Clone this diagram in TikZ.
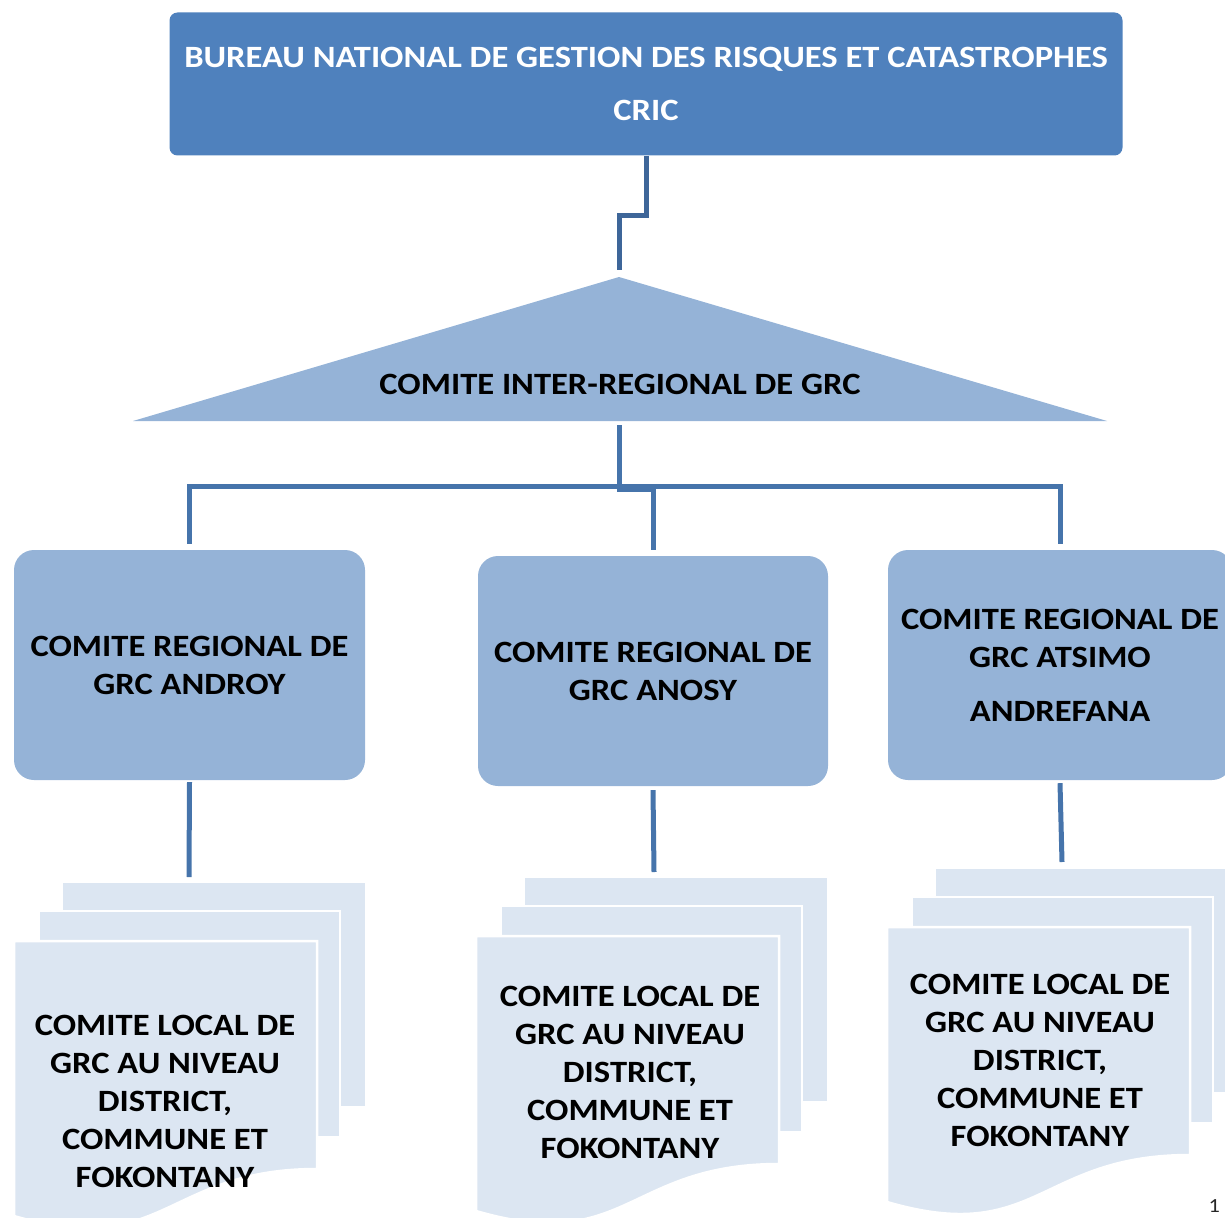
\documentclass[tikz,border=0pt]{standalone}
\usepackage{fontspec}
\setmainfont{Carlito}[FakeStretch=1.115]
\definecolor{topblue}{HTML}{4F81BD}
\definecolor{midblue}{HTML}{95B3D7}
\definecolor{lightblue}{HTML}{DCE6F2}
\definecolor{connblue}{HTML}{4674AB}
\definecolor{conndark}{HTML}{3E6699}
\newcommand\multidoc[2]{%
  \path[sheet] (#1+48,#2) rectangle (#1+352,#2+225);
  \path[sheet] (#1+25,#2+29) rectangle (#1+326,#2+255);
  \path[sheet] (#1,#2+59) -- (#1+303,#2+59) -- (#1+303,#2+287)
     .. controls (#1+151,#2+287) and (#1+151,#2+378) .. (#1,#2+334) -- cycle;
}
\begin{document}
\begin{tikzpicture}[x=1pt,y=-1pt,
  conn/.style={draw=connblue,line width=5pt},
  topbox/.style={fill=topblue,rounded corners=8pt,minimum width=953pt,minimum height=143pt,
     inner sep=0pt,text=white,align=center,font=\bfseries\fontsize{31}{53}\selectfont},
  regbox/.style={fill=midblue,rounded corners=20pt,minimum height=230pt,inner sep=0pt,
     align=center,font=\bfseries\fontsize{31}{38}\selectfont},
  sheet/.style={fill=lightblue,draw=white,line width=2.5pt},
  doctext/.style={align=center,inner sep=0pt,font=\bfseries\fontsize{31}{38}\selectfont},
  tritext/.style={inner sep=0pt,font=\bfseries\fontsize{31}{38}\selectfont},
]
\useasboundingbox (0,0) rectangle (1225,1217);

% top box
\node[topbox] (bn) at (646,84) {BUREAU NATIONAL DE GESTION DES RISQUES ET CATASTROPHES\\CRIC};

% triangle
\coordinate (tritop) at (619,277);
\coordinate (tribase) at (619,421);
\fill[midblue] (tritop) -- (1107,421) -- (133,421) -- cycle;
\node[tritext] (tri) at (620,384) {COMITE INTER-REGIONAL DE GRC};

% regional boxes
\node[regbox,minimum width=351pt] (r1) at (189.5,665) {COMITE REGIONAL DE\\GRC ANDROY};
\node[regbox,minimum width=350pt] (r2) at (653,671) {COMITE REGIONAL DE\\GRC ANOSY};
\node[regbox,minimum width=344pt] (r3) at (1060,665) {COMITE REGIONAL DE\\GRC ATSIMO\\[16pt]ANDREFANA};

% documents
\multidoc{14}{882}
\multidoc{476}{877}
\multidoc{887}{868}
\coordinate (d1) at (189,877);
\coordinate (d2) at (654,872);
\coordinate (d3) at (1062,862);
\node[doctext] (t1) at (165,1101) {COMITE LOCAL DE\\GRC AU NIVEAU\\DISTRICT,\\COMMUNE ET\\FOKONTANY};
\node[doctext] (t2) at (630,1072) {COMITE LOCAL DE\\GRC AU NIVEAU\\DISTRICT,\\COMMUNE ET\\FOKONTANY};
\node[doctext] (t3) at (1040,1060) {COMITE LOCAL DE\\GRC AU NIVEAU\\DISTRICT,\\COMMUNE ET\\FOKONTANY};

% connectors
\draw[conn,draw=conndark] (bn.south) -- ++(0,60) -| ([yshift=7pt]tritop);
\draw[conn] ([yshift=-4pt]tribase) -- ++(0,64) -| ([yshift=6pt]r2.north);
\draw[conn] ([yshift=6pt]r1.north) -- ++(0,-57) -| ([yshift=6pt]r3.north);
\draw[conn] ([yshift=-2pt]r1.south) -- (d1);
\draw[conn] ([yshift=-4pt]r2.south) -- (d2);
\draw[conn] ([yshift=-3pt]r3.south) -- (d3);

% page number
\node[anchor=south east,inner sep=0pt,text=black!85,font=\fontsize{20}{20}\selectfont] (pg) at (1220,1213) {1};
\end{tikzpicture}
\end{document}
